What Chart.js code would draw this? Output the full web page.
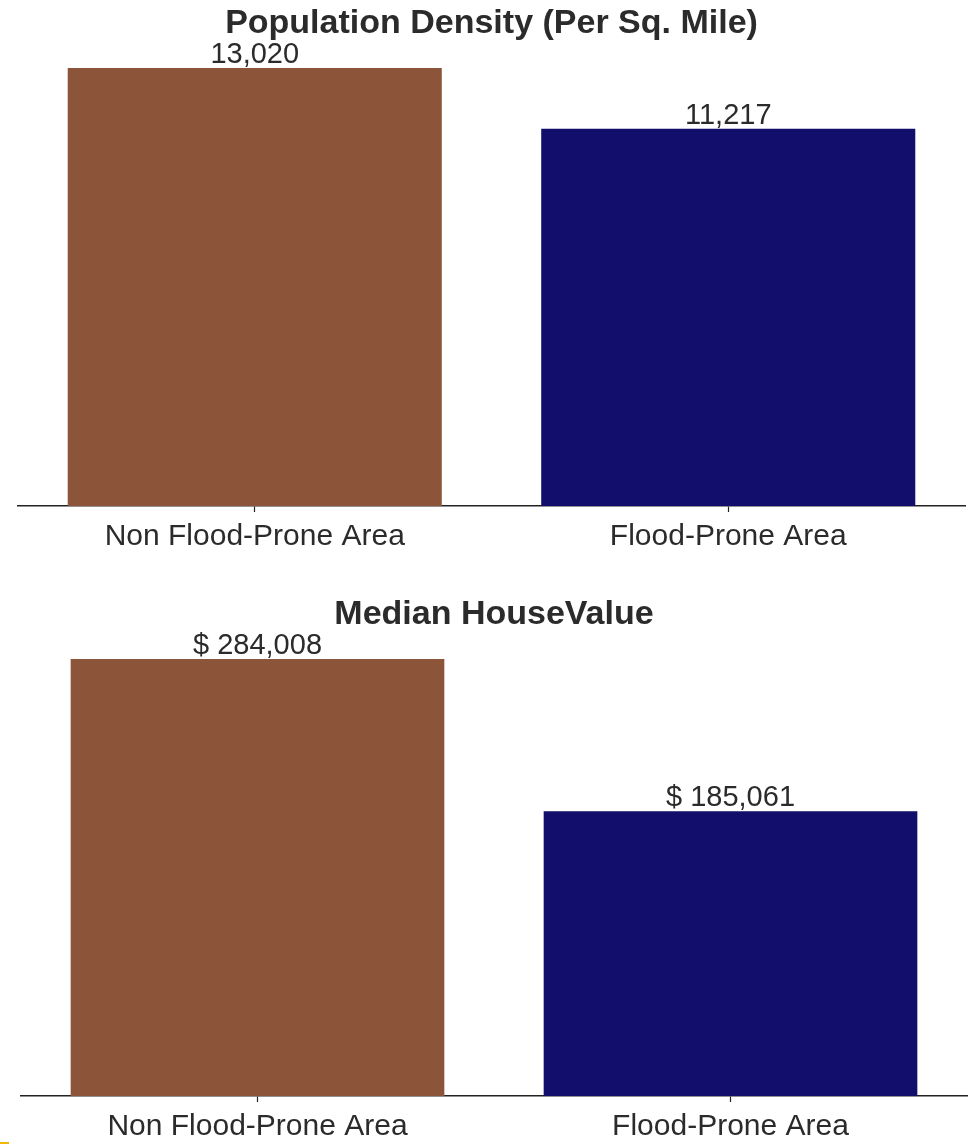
<!DOCTYPE html>
<html>
<head>
<meta charset="utf-8">
<title>Flood-prone area comparison</title>
<script src="https://cdn.jsdelivr.net/npm/chart.js@4/dist/chart.umd.min.js"></script>
<style>
  html, body { margin: 0; padding: 0; background: #fff; }
  body { position: relative; width: 973px; height: 1145px; overflow: hidden; }
  canvas { position: absolute; left: 0; }
  #density { top: 0; }
  #houseValue { top: 590px; }
  .mark { position: absolute; left: 0; top: 1142px; width: 9px; height: 2px; background: #f2b705; }
</style>
</head>
<body>
<canvas id="density" width="973" height="570"></canvas>
<canvas id="houseValue" width="973" height="562"></canvas>
<div class="mark"></div>

<script>
const categories = ['Non Flood-Prone Area', 'Flood-Prone Area'];
const densityValues = [13020, 11217];
const houseValues = [284008, 185061];
const barColors = ['#8C553A', '#110F6B'];

const textColor = '#2b2b2b';
const fontFamily = '"Liberation Sans", Arial, sans-serif';

// writes the value above each bar
const valueLabels = {
  id: 'valueLabels',
  afterDatasetsDraw(chart, args, opts) {
    const ctx = chart.ctx;
    const meta = chart.getDatasetMeta(0);
    ctx.save();
    ctx.font = '29px ' + fontFamily;
    ctx.fillStyle = textColor;
    ctx.textAlign = 'center';
    ctx.textBaseline = 'alphabetic';
    meta.data.forEach((bar, i) => {
      const v = chart.data.datasets[0].data[i];
      ctx.fillText(opts.prefix + v.toLocaleString('en-US'), bar.x, bar.y - 5);
    });
    ctx.restore();
  }
};

function makeChart(id, title, values, prefix, pad) {
  const ctx = document.getElementById(id).getContext('2d');
  return new Chart(ctx, {
    type: 'bar',
    data: {
      labels: categories,
      datasets: [{
        data: values,
        backgroundColor: barColors,
        borderWidth: 0,
        barPercentage: 0.79,
        categoryPercentage: 1
      }]
    },
    options: {
      responsive: false,
      animation: false,
      layout: { padding: pad.layout },
      plugins: {
        legend: { display: false },
        tooltip: { enabled: false },
        title: {
          display: true,
          text: title,
          color: textColor,
          font: { family: fontFamily, size: 34, weight: 'bold' },
          padding: pad.title
        },
        valueLabels: { prefix: prefix }
      },
      scales: {
        x: {
          offset: true,
          grid: {
            offset: false,
            drawOnChartArea: false,
            drawTicks: true,
            tickLength: 6,
            tickWidth: 1.2,
            tickColor: '#222'
          },
          border: { display: true, color: '#222', width: 1.6 },
          ticks: {
            color: textColor,
            padding: 7,
            font: { family: fontFamily, size: 30 }
          }
        },
        y: {
          display: false,
          min: 0,
          max: Math.max(...values)
        }
      }
    },
    plugins: [valueLabels]
  });
}

makeChart('density', 'Population Density (Per Sq. Mile)', densityValues, '', {
  layout: { left: 18, right: 8, top: 0, bottom: 8 },
  title: { top: 3, bottom: 24.2 }
});

makeChart('houseValue', 'Median HouseValue', houseValues, '$ ', {
  layout: { left: 21, right: 6, top: 0, bottom: 0 },
  title: { top: 4, bottom: 24.2 }
});
</script>
</body>
</html>
